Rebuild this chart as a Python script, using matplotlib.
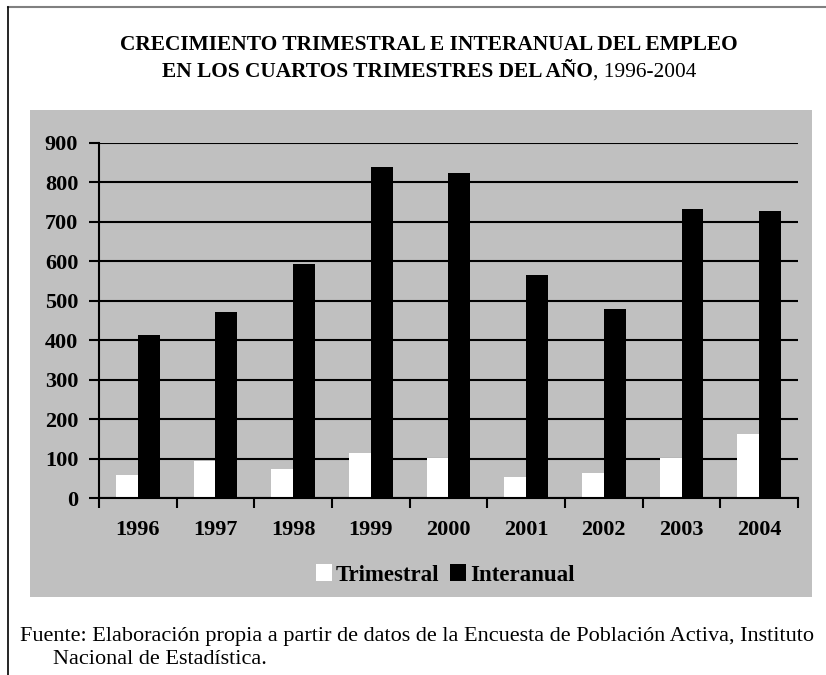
import numpy as np
import matplotlib
matplotlib.use('Agg')
import matplotlib.pyplot as plt
from matplotlib.patches import Rectangle

years = ['1996', '1997', '1998', '1999', '2000', '2001', '2002', '2003', '2004']
trimestral = [59, 93, 74, 113, 102, 54, 64, 102, 161]
interanual = [414, 472, 592, 840, 825, 566, 480, 733, 728]
yticks = [0, 100, 200, 300, 400, 500, 600, 700, 800, 900]

plt.rcParams['font.family'] = ['Liberation Serif', 'DejaVu Serif']

fig = plt.figure(figsize=(8.26, 6.75), dpi=100)
fig.patch.set_facecolor('white')

# gray panel behind the chart
fig.add_artist(Rectangle((30 / 826, 1 - 597 / 675), 782 / 826, 487 / 675,
                         transform=fig.transFigure, facecolor='#c0c0c0',
                         edgecolor='none', zorder=-1))
# page frame: top (gray) and left (black)
fig.add_artist(plt.Line2D([8 / 826, 1], [1 - 6.5 / 675] * 2, transform=fig.transFigure,
                          color='#808080', lw=1.5))
fig.add_artist(plt.Line2D([8 / 826] * 2, [0, 1 - 6.5 / 675], transform=fig.transFigure,
                          color='black', lw=1.2))

ax = fig.add_axes([99 / 826, 1 - 498 / 675, 699 / 826, 355 / 675])
ax.set_facecolor('none')

x = np.arange(len(years))
w = 0.28
ax.bar(x - w / 2, trimestral, w, color='white', label='Trimestral', zorder=3)
ax.bar(x + w / 2, interanual, w, color='black', label='Interanual', zorder=3)

ax.set_xlim(-0.5, len(years) - 0.5)
ax.set_ylim(0, 900)
ax.set_yticks(yticks)
ax.set_yticklabels([str(v) for v in yticks], fontsize=16, fontweight='bold')
ax.yaxis.grid(True, color='black', lw=1.5, zorder=1)
ax.set_axisbelow(True)
ax.set_xticks(x)
ax.set_xticklabels(years, fontsize=16, fontweight='bold')
ax.tick_params(axis='x', length=0, pad=16)
ax.set_xticks(np.arange(len(years) + 1) - 0.5, minor=True)
ax.tick_params(axis='x', which='minor', length=7, width=1.5, direction='out')
ax.tick_params(axis='y', length=7, width=1.5, direction='out', pad=8)
for s in ['top', 'right']:
    ax.spines[s].set_visible(False)
ax.spines['left'].set_linewidth(1.5)
ax.spines['bottom'].set_linewidth(1.5)
ax.spines['left'].set_zorder(4)
ax.spines['bottom'].set_zorder(4)

leg = fig.legend(loc='center', bbox_to_anchor=(445 / 826, 1 - 575 / 675), ncol=2,
                 frameon=False, handlelength=0.7, handleheight=0.7, handletextpad=0.15,
                 columnspacing=0.5, prop={'size': 16.5, 'weight': 'bold'})

# title
fig.text(429 / 826, 1 - 45 / 675, 'CRECIMIENTO TRIMESTRAL E INTERANUAL DEL EMPLEO',
         ha='center', va='center', fontsize=15.4, fontweight='bold')
fig.canvas.draw()
r = fig.canvas.get_renderer()
t1 = fig.text(0, 1 - 72 / 675, 'EN LOS CUARTOS TRIMESTRES DEL AÑO', ha='left', va='center',
              fontsize=15.4, fontweight='bold')
t2 = fig.text(0, 1 - 72 / 675, ', 1996-2004', ha='left', va='center', fontsize=15.4)
w1 = t1.get_window_extent(r).width
w2 = t2.get_window_extent(r).width
start = 429 - (w1 + w2) / 2
t1.set_x(start / 826)
t2.set_x((start + w1) / 826)

# source note
fig.text(20 / 826, 1 - 637 / 675,
         'Fuente: Elaboración propia a partir de datos de la Encuesta de Población Activa, Instituto',
         ha='left', va='center', fontsize=16)
fig.text(53 / 826, 1 - 660 / 675, 'Nacional de Estadística.', ha='left', va='center', fontsize=16)

fig.savefig('out.png', dpi=100)
